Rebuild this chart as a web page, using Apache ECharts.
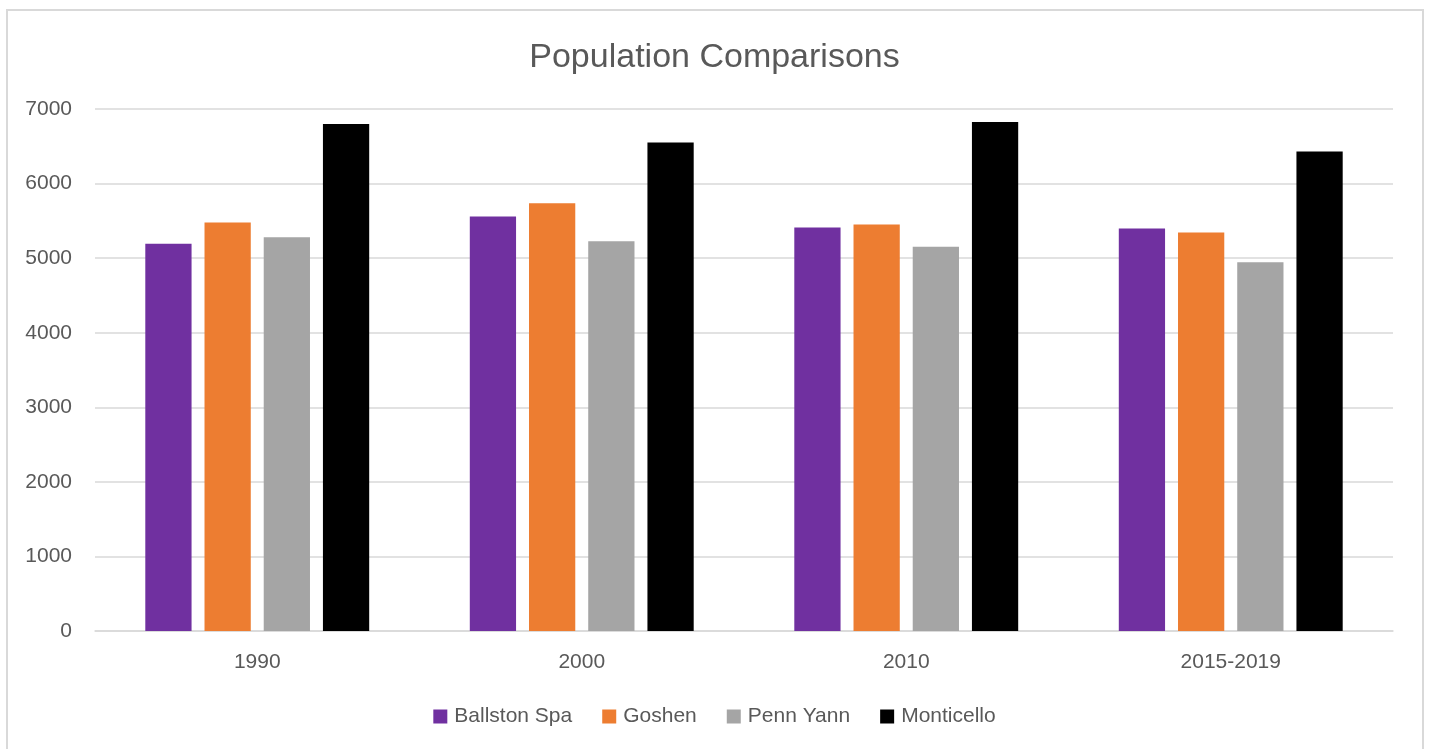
<!DOCTYPE html>
<html>
<head>
<meta charset="utf-8">
<script src="https://cdn.jsdelivr.net/npm/echarts@6/dist/echarts.min.js"></script>
<style>
html,body{margin:0;padding:0;background:#fff;}
#c{width:1429px;height:749px;}
</style>
</head>
<body>
<div id="c"></div>
<script>
const categories = ['1990', '2000', '2010', '2015-2019'];
const ballstonSpa = [5192, 5559, 5411, 5398];
const goshen = [5478, 5737, 5452, 5344];
const pennYann = [5281, 5228, 5152, 4946];
const monticello = [6800, 6551, 6827, 6430];
const yTicks = [0, 1000, 2000, 3000, 4000, 5000, 6000, 7000];

const font = 'Liberation Sans, Arial, sans-serif';
const chart = echarts.init(document.getElementById('c'));
function s(name, data, color) {
  return { name, type: 'bar', data, itemStyle: { color }, barGap: '28%', barCategoryGap: '31%' };
}
chart.setOption({
  animation: false,
  graphic: [{ type: 'rect', shape: { x: 7, y: 10, width: 1416, height: 760 }, style: { fill: 'none', stroke: '#d9d9d9', lineWidth: 2 }, z: -1 }],
  title: { text: 'Population Comparisons', left: 'center', top: 36, textStyle: { fontFamily: font, fontSize: 34, fontWeight: 'normal', color: '#595959' } },
  legend: {
    top: 701, left: 'center', itemWidth: 14, itemHeight: 14, itemGap: 30, icon: 'rect',
    textStyle: { fontFamily: font, fontSize: 21, color: '#595959', padding: [0, 0, 0, 2] }
  },
  grid: { left: 95, right: 36, top: 109, bottom: 118 },
  xAxis: {
    type: 'category', data: categories,
    axisLine: { lineStyle: { color: '#d9d9d9', width: 1.5 } }, axisTick: { show: false },
    axisLabel: { fontFamily: font, fontSize: 21, color: '#595959', margin: 21 }
  },
  yAxis: {
    type: 'value', min: yTicks[0], max: yTicks[yTicks.length - 1], interval: 1000,
    axisLine: { show: false }, axisTick: { show: false },
    splitLine: { lineStyle: { color: '#d9d9d9', width: 1.5 } },
    axisLabel: { fontFamily: font, fontSize: 21, color: '#595959', margin: 23, formatter: v => String(v) }
  },
  series: [
    s('Ballston Spa', ballstonSpa, '#7030a0'),
    s('Goshen', goshen, '#ed7d31'),
    s('Penn Yann', pennYann, '#a5a5a5'),
    s('Monticello', monticello, '#000000')
  ]
});
</script>
</body>
</html>
